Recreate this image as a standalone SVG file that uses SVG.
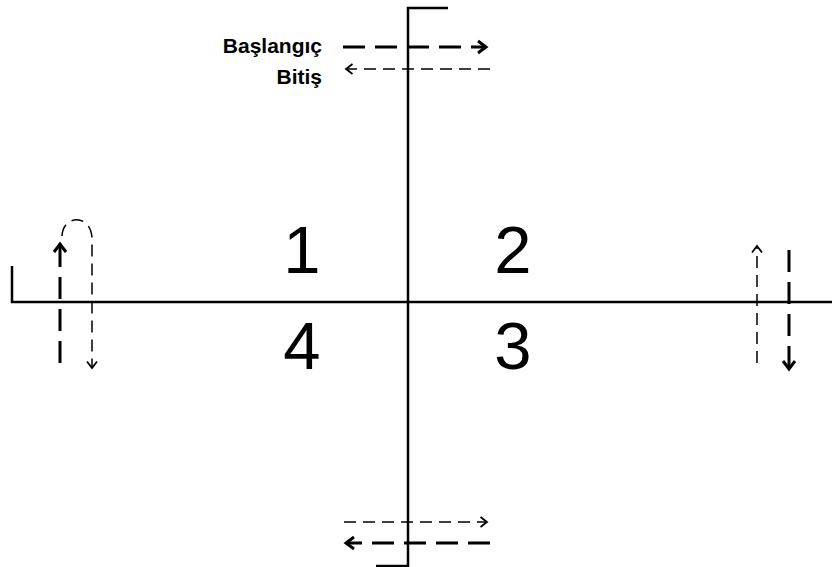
<svg xmlns="http://www.w3.org/2000/svg" width="832" height="567" viewBox="0 0 832 567">
<style>
.axis{fill:none;stroke:#000;stroke-width:2.5}
.thick{fill:none;stroke:#000;stroke-width:3;stroke-dasharray:22 10}
.thin{fill:none;stroke:#000;stroke-width:1.5;stroke-dasharray:12 7}
.num{font-family:"Liberation Sans",Arial,sans-serif;font-size:67px;fill:#000;text-anchor:middle}
.lbl{font-family:"Liberation Sans",Arial,sans-serif;font-size:21px;font-weight:bold;fill:#000;text-anchor:end}
</style>
<defs>
<marker id="hThick" markerUnits="userSpaceOnUse" markerWidth="20" markerHeight="20" refX="11" refY="10" orient="auto" viewBox="0 0 20 20">
<path d="M3,4 L11,10 L3,16" fill="none" stroke="#000" stroke-width="3"/>
</marker>
<marker id="hThin" markerUnits="userSpaceOnUse" markerWidth="20" markerHeight="20" refX="10" refY="10" orient="auto" viewBox="0 0 20 20">
<path d="M3.5,5 L10,10 L3.5,15" fill="none" stroke="#000" stroke-width="1.8"/>
</marker>
</defs>
<rect width="832" height="567" fill="#fff"/>
<g id="axes">
<path class="axis" d="M448,8 H408 V567"/>
<path class="axis" d="M12,266 V302 H832"/>
<path class="axis" d="M376,566 H408"/>
</g>
<g id="q1"><text class="num" x="302" y="273">1</text></g>
<g id="q2"><text class="num" x="513" y="273">2</text></g>
<g id="q3"><text class="num" x="513" y="369">3</text></g>
<g id="q4"><text class="num" x="302" y="369">4</text></g>
<g id="legend-start"><text class="lbl" x="322" y="53">Başlangıç</text></g>
<g id="legend-end"><text class="lbl" x="322" y="84">Bitiş</text></g>
<g id="connectors">
<path class="thick" d="M343,47 H486" marker-end="url(#hThick)"/>
<path class="thin" d="M490,69 H346" marker-end="url(#hThin)"/>
<path class="thin" d="M344,522 H487" marker-end="url(#hThin)"/>
<path class="thick" d="M490,543 H346" marker-end="url(#hThick)"/>
<path class="thick" d="M60,363 V244" marker-end="url(#hThick)"/>
<path class="thin" d="M62,236 C63,214 91,214 92,238 V368" marker-end="url(#hThin)"/>
<path class="thin" d="M757,363 V246" marker-end="url(#hThin)"/>
<path class="thick" d="M789,250 V369" marker-end="url(#hThick)"/>
</g>
</svg>
